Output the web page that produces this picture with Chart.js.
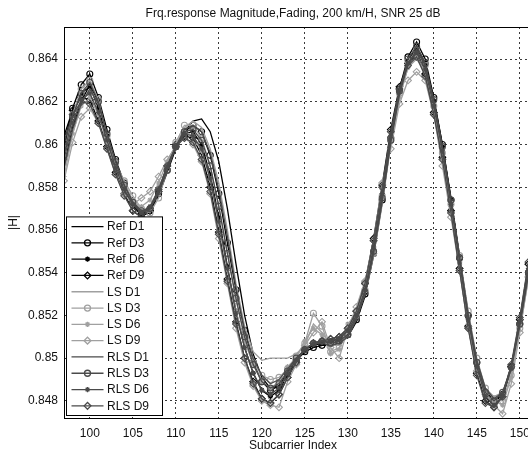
<!DOCTYPE html>
<html>
<head>
<meta charset="utf-8">
<script src="https://cdn.jsdelivr.net/npm/chart.js@4/dist/chart.umd.min.js"></script>
<style>
  html, body { margin: 0; padding: 0; background: #fff; overflow: hidden; }
  #wrap { position: relative; width: 580px; height: 454px; }
</style>
</head>
<body>
<div id="wrap"><canvas id="c"></canvas></div>
<script>
// Frequency response magnitude |H| per subcarrier — reference vs LS vs RLS estimates.
const subcarriers = [97, 98, 99, 100, 101, 102, 103, 104, 105, 106, 107, 108, 109, 110, 111, 112,
  113, 114, 115, 116, 117, 118, 119, 120, 121, 122, 123, 124, 125, 126, 127, 128, 129, 130, 131,
  132, 133, 134, 135, 136, 137, 138, 139, 140, 141, 142, 143, 144, 145, 146, 147, 148, 149, 150,
  151, 152];

const refD1 = [0.8590, 0.8608, 0.8620, 0.8628, 0.8620, 0.8606, 0.8592, 0.8581, 0.8572, 0.8567,
  0.8568, 0.8576, 0.8587, 0.8598, 0.8606, 0.8611, 0.8612, 0.8606, 0.8592, 0.8570, 0.8544, 0.8520,
  0.8502, 0.8491, 0.8486, 0.8487, 0.8493, 0.8499, 0.8503, 0.8505, 0.8506, 0.8506, 0.8507, 0.8510,
  0.8517, 0.8529, 0.8548, 0.8573, 0.8601, 0.8624, 0.8639, 0.8646, 0.8638, 0.8621, 0.8600, 0.8575,
  0.8548, 0.8521, 0.8499, 0.8485, 0.8480, 0.8483, 0.8495, 0.8515, 0.8539, 0.8564];
const refD3 = [0.8600, 0.8617, 0.8628, 0.8633, 0.8622, 0.8607, 0.8593, 0.8582, 0.8573, 0.8568,
  0.8569, 0.8577, 0.8588, 0.8599, 0.8606, 0.8609, 0.8606, 0.8595, 0.8577, 0.8554, 0.8532, 0.8513,
  0.8498, 0.8489, 0.8485, 0.8487, 0.8493, 0.8499, 0.8503, 0.8505, 0.8506, 0.8507, 0.8508, 0.8511,
  0.8518, 0.8530, 0.8549, 0.8574, 0.8603, 0.8626, 0.8641, 0.8648, 0.8640, 0.8622, 0.8600, 0.8574,
  0.8547, 0.8520, 0.8498, 0.8484, 0.8479, 0.8483, 0.8496, 0.8516, 0.8540, 0.8565];
const refD6 = [0.8598, 0.8614, 0.8624, 0.8627, 0.8617, 0.8603, 0.8590, 0.8579, 0.8571, 0.8567,
  0.8569, 0.8578, 0.8589, 0.8599, 0.8605, 0.8606, 0.8600, 0.8586, 0.8566, 0.8543, 0.8522, 0.8505,
  0.8493, 0.8485, 0.8482, 0.8485, 0.8492, 0.8499, 0.8504, 0.8506, 0.8507, 0.8508, 0.8509, 0.8512,
  0.8519, 0.8531, 0.8551, 0.8576, 0.8603, 0.8625, 0.8639, 0.8645, 0.8637, 0.8620, 0.8599, 0.8574,
  0.8547, 0.8519, 0.8496, 0.8482, 0.8478, 0.8482, 0.8495, 0.8516, 0.8541, 0.8567];
const refD9 = [0.8604, 0.8616, 0.8622, 0.8621, 0.8611, 0.8599, 0.8587, 0.8577, 0.8569, 0.8566,
  0.8569, 0.8578, 0.8590, 0.8600, 0.8604, 0.8603, 0.8595, 0.8580, 0.8559, 0.8537, 0.8517, 0.8500,
  0.8489, 0.8481, 0.8479, 0.8483, 0.8491, 0.8498, 0.8504, 0.8507, 0.8508, 0.8509, 0.8510, 0.8514,
  0.8522, 0.8535, 0.8556, 0.8581, 0.8607, 0.8627, 0.8638, 0.8642, 0.8633, 0.8615, 0.8594, 0.8569,
  0.8542, 0.8515, 0.8493, 0.8480, 0.8477, 0.8482, 0.8496, 0.8518, 0.8544, 0.8570];

const lsD1 = [0.8588, 0.8605, 0.8619, 0.8626, 0.8619, 0.8605, 0.8591, 0.8582, 0.8574, 0.8569,
  0.8571, 0.8578, 0.8589, 0.8600, 0.8608, 0.8611, 0.8608, 0.8598, 0.8582, 0.8560, 0.8535, 0.8515,
  0.8503, 0.8499, 0.8500, 0.8500, 0.8500, 0.8502, 0.8506, 0.8516, 0.8512, 0.8506, 0.8506, 0.8510,
  0.8519, 0.8530, 0.8548, 0.8572, 0.8600, 0.8622, 0.8636, 0.8640, 0.8634, 0.8619, 0.8597, 0.8572,
  0.8545, 0.8519, 0.8498, 0.8486, 0.8482, 0.8484, 0.8494, 0.8513, 0.8537, 0.8562];
const lsD3 = [0.8596, 0.8614, 0.8626, 0.8630, 0.8621, 0.8604, 0.8591, 0.8583, 0.8576, 0.8570,
  0.8568, 0.8575, 0.8588, 0.8601, 0.8609, 0.8609, 0.8603, 0.8590, 0.8571, 0.8549, 0.8527, 0.8510,
  0.8498, 0.8492, 0.8490, 0.8491, 0.8495, 0.8501, 0.8507, 0.8521, 0.8515, 0.8503, 0.8505, 0.8513,
  0.8520, 0.8532, 0.8549, 0.8576, 0.8602, 0.8624, 0.8639, 0.8644, 0.8637, 0.8618, 0.8596, 0.8572,
  0.8548, 0.8522, 0.8500, 0.8486, 0.8481, 0.8480, 0.8492, 0.8514, 0.8538, 0.8563];
const lsD6 = [0.8585, 0.8605, 0.8618, 0.8622, 0.8614, 0.8601, 0.8589, 0.8580, 0.8573, 0.8571,
  0.8574, 0.8582, 0.8592, 0.8600, 0.8606, 0.8604, 0.8597, 0.8584, 0.8563, 0.8541, 0.8522, 0.8508,
  0.8497, 0.8489, 0.8486, 0.8489, 0.8496, 0.8500, 0.8508, 0.8514, 0.8511, 0.8502, 0.8504, 0.8516,
  0.8521, 0.8533, 0.8552, 0.8579, 0.8604, 0.8622, 0.8636, 0.8641, 0.8634, 0.8617, 0.8595, 0.8570,
  0.8544, 0.8516, 0.8495, 0.8483, 0.8480, 0.8478, 0.8491, 0.8515, 0.8540, 0.8566];
const lsD9 = [0.8583, 0.8601, 0.8613, 0.8617, 0.8610, 0.8598, 0.8586, 0.8577, 0.8572, 0.8575,
  0.8578, 0.8585, 0.8593, 0.8599, 0.8603, 0.8600, 0.8592, 0.8577, 0.8556, 0.8535, 0.8514, 0.8498,
  0.8487, 0.8480, 0.8478, 0.8477, 0.8489, 0.8497, 0.8506, 0.8512, 0.8517, 0.8505, 0.8500, 0.8514,
  0.8524, 0.8536, 0.8555, 0.8582, 0.8598, 0.8619, 0.8630, 0.8634, 0.8630, 0.8614, 0.8590, 0.8566,
  0.8541, 0.8514, 0.8494, 0.8483, 0.8478, 0.8474, 0.8488, 0.8512, 0.8538, 0.8564];

const rlsD1 = [0.8589, 0.8607, 0.8619, 0.8626, 0.8619, 0.8605, 0.8592, 0.8581, 0.8573, 0.8568,
  0.8570, 0.8577, 0.8588, 0.8599, 0.8607, 0.8609, 0.8606, 0.8596, 0.8579, 0.8557, 0.8533, 0.8513,
  0.8500, 0.8492, 0.8488, 0.8490, 0.8495, 0.8500, 0.8504, 0.8507, 0.8507, 0.8506, 0.8507, 0.8510,
  0.8518, 0.8530, 0.8549, 0.8573, 0.8601, 0.8623, 0.8638, 0.8644, 0.8637, 0.8620, 0.8599, 0.8574,
  0.8547, 0.8520, 0.8499, 0.8486, 0.8481, 0.8484, 0.8495, 0.8515, 0.8539, 0.8564];
const rlsD3 = [0.8595, 0.8613, 0.8624, 0.8629, 0.8620, 0.8605, 0.8592, 0.8581, 0.8573, 0.8569,
  0.8570, 0.8578, 0.8588, 0.8599, 0.8606, 0.8607, 0.8602, 0.8590, 0.8571, 0.8549, 0.8528, 0.8510,
  0.8497, 0.8489, 0.8486, 0.8488, 0.8494, 0.8500, 0.8504, 0.8507, 0.8508, 0.8507, 0.8508, 0.8511,
  0.8519, 0.8531, 0.8550, 0.8575, 0.8602, 0.8625, 0.8640, 0.8646, 0.8638, 0.8621, 0.8599, 0.8574,
  0.8547, 0.8520, 0.8498, 0.8484, 0.8480, 0.8484, 0.8496, 0.8516, 0.8540, 0.8565];
const rlsD6 = [0.8593, 0.8610, 0.8621, 0.8624, 0.8615, 0.8602, 0.8589, 0.8579, 0.8572, 0.8568,
  0.8571, 0.8579, 0.8590, 0.8599, 0.8605, 0.8604, 0.8598, 0.8584, 0.8564, 0.8542, 0.8521, 0.8505,
  0.8493, 0.8485, 0.8483, 0.8486, 0.8493, 0.8499, 0.8504, 0.8507, 0.8508, 0.8508, 0.8509, 0.8513,
  0.8520, 0.8532, 0.8552, 0.8577, 0.8604, 0.8625, 0.8638, 0.8643, 0.8635, 0.8618, 0.8597, 0.8572,
  0.8545, 0.8518, 0.8496, 0.8482, 0.8478, 0.8482, 0.8495, 0.8517, 0.8542, 0.8567];
const rlsD9 = [0.8601, 0.8614, 0.8620, 0.8619, 0.8610, 0.8598, 0.8586, 0.8576, 0.8569, 0.8566,
  0.8570, 0.8579, 0.8590, 0.8599, 0.8603, 0.8601, 0.8593, 0.8578, 0.8558, 0.8536, 0.8516, 0.8500,
  0.8488, 0.8481, 0.8479, 0.8483, 0.8491, 0.8498, 0.8504, 0.8507, 0.8508, 0.8509, 0.8510, 0.8514,
  0.8522, 0.8535, 0.8555, 0.8580, 0.8606, 0.8626, 0.8637, 0.8641, 0.8632, 0.8614, 0.8593, 0.8568,
  0.8541, 0.8514, 0.8492, 0.8479, 0.8477, 0.8482, 0.8497, 0.8519, 0.8545, 0.8571];

const seriesLabels = ['Ref D1', 'Ref D3', 'Ref D6', 'Ref D9', 'LS D1', 'LS D3', 'LS D6', 'LS D9',
  'RLS D1', 'RLS D3', 'RLS D6', 'RLS D9'];
const seriesValues = [refD1, refD3, refD6, refD9, lsD1, lsD3, lsD6, lsD9, rlsD1, rlsD3, rlsD6, rlsD9];

const xTicks = [100, 105, 110, 115, 120, 125, 130, 135, 140, 145, 150];
const yTicks = [0.848, 0.85, 0.852, 0.854, 0.856, 0.858, 0.86, 0.862, 0.864];

const TITLE = 'Frq.response Magnitude,Fading, 200 km/H, SNR 25 dB';
const X_LABEL = 'Subcarrier Index';
const Y_LABEL = '|H|';
const FONT = "'Liberation Sans', Arial, Helvetica, sans-serif";

// estimator family -> gray level, symbol index -> marker
const FAMILY_COLOR = { Ref: '#000000', LS: '#a0a0a0', RLS: '#4a4a4a' };
const MARKERS = {
  D1: { style: false, radius: 0, fill: false },
  D3: { style: 'circle', radius: 3, fill: false },
  D6: { style: 'star', radius: 2.6, fill: true },
  D9: { style: 'rectRot', radius: 3.4, fill: false },
};

const datasets = seriesLabels.map((label, i) => {
  const [fam, sym] = label.split(' ');
  const color = FAMILY_COLOR[fam];
  const m = MARKERS[sym];
  return {
    label,
    data: subcarriers.map((x, k) => ({ x, y: seriesValues[i][k] })),
    borderColor: color,
    backgroundColor: color,
    borderWidth: 1.3,
    pointStyle: m.style,
    pointRadius: m.radius,
    pointBorderWidth: 1.1,
    pointBorderColor: color,
    pointBackgroundColor: m.fill ? color : 'rgba(0,0,0,0)',
    tension: 0,
    order: seriesLabels.length - 1 - i, // later series drawn on top, as in the original
  };
});

// axes box, title, axis labels and an in-plot legend (bottom-left, opaque)
const framePlugin = {
  id: 'frame',
  afterDraw(chart) {
    const { ctx, chartArea: a } = chart;
    ctx.save();
    ctx.strokeStyle = '#000';
    ctx.lineWidth = 1;
    ctx.strokeRect(Math.round(a.left) + 0.5, Math.round(a.top) + 0.5,
      Math.round(a.right - a.left), Math.round(a.bottom - a.top));

    ctx.fillStyle = '#111';
    ctx.font = `12px ${FONT}`;
    ctx.textAlign = 'center';
    ctx.textBaseline = 'middle';
    ctx.fillText(TITLE, 293, 14);
    ctx.fillText(X_LABEL, 293, 446);
    ctx.save();
    ctx.translate(14, (a.top + a.bottom) / 2);
    ctx.rotate(-Math.PI / 2);
    ctx.fillText(Y_LABEL, 0, 0);
    ctx.restore();

    // legend
    const n = chart.data.datasets.length;
    const bx = a.left + 2.5, bw = 96, rowH = 16.3;
    const bh = rowH * n + 3;
    const by = a.bottom - 2.5 - bh;
    ctx.fillStyle = '#fff';
    ctx.fillRect(bx, by, bw, bh);
    ctx.strokeStyle = '#000';
    ctx.lineWidth = 1;
    ctx.strokeRect(bx, by, bw, bh);
    ctx.textAlign = 'left';
    chart.data.datasets.forEach((ds, i) => {
      const y = by + 1.5 + rowH * (i + 0.5);
      ctx.strokeStyle = ds.borderColor;
      ctx.lineWidth = 1.3;
      ctx.beginPath();
      ctx.moveTo(bx + 5, y);
      ctx.lineTo(bx + 37, y);
      ctx.stroke();
      if (ds.pointStyle) {
        ctx.fillStyle = ds.pointBackgroundColor;
        ctx.strokeStyle = ds.pointBorderColor;
        Chart.helpers.drawPoint(ctx, {
          pointStyle: ds.pointStyle, radius: ds.pointRadius, borderWidth: 1.1, rotation: 0,
        }, bx + 21, y);
      }
      ctx.fillStyle = '#111';
      ctx.fillText(ds.label, bx + 40.5, y + 0.5);
    });
    ctx.restore();
  },
};

new Chart(document.getElementById('c'), {
  type: 'line',
  data: { datasets },
  options: {
    responsive: true,
    maintainAspectRatio: false,
    animation: false,
    layout: { padding: { left: 0, top: 27, right: 17.2, bottom: 0 } },
    plugins: { legend: { display: false }, tooltip: { enabled: false }, title: { display: false } },
    scales: {
      x: {
        type: 'linear', min: 97, max: 155,
        afterFit: (s) => { s.height = 454 - 418; },
        afterBuildTicks: (s) => { s.ticks = xTicks.map(v => ({ value: v })); },
        ticks: { color: '#111', font: { family: FONT, size: 12 }, padding: 8, maxRotation: 0,
          callback: (v) => String(v) },
        grid: { color: '#3a3a3a', lineWidth: 1, drawTicks: false },
        border: { display: true, color: '#000', dash: [2, 3] },
      },
      y: {
        min: 0.8472, max: 0.8655,
        afterFit: (s) => { s.width = 64; },
        afterBuildTicks: (s) => { s.ticks = yTicks.map(v => ({ value: v })); },
        ticks: { color: '#111', font: { family: FONT, size: 12 }, padding: 6,
          callback: (v) => String(Number(v.toFixed(3))) },
        grid: { color: '#3a3a3a', lineWidth: 1, drawTicks: false },
        border: { display: true, color: '#000', dash: [2, 3] },
      },
    },
  },
  plugins: [framePlugin],
});
</script>
</body>
</html>
